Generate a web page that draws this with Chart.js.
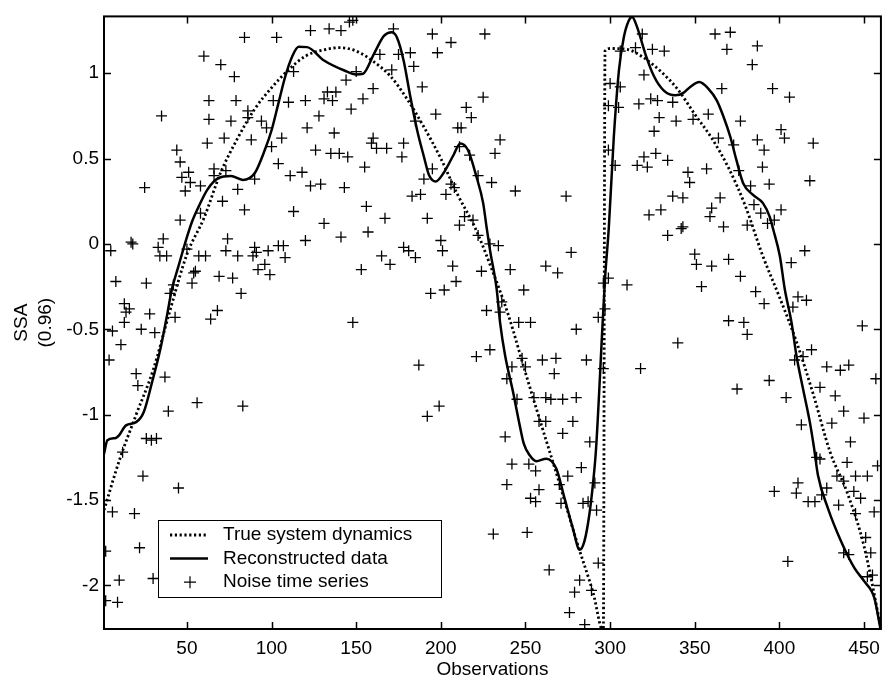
<!DOCTYPE html>
<html>
<head>
<meta charset="utf-8">
<title>SSA reconstruction</title>
<script src="https://cdn.jsdelivr.net/npm/chart.js@4.4.1/dist/chart.umd.min.js"></script>
<style>
  html, body { margin: 0; padding: 0; background: #fff; }
  #grafica { display: block; }
</style>
</head>
<body>
<canvas id="grafica" width="888" height="681"></canvas>
<script>
// Etiquetas de los ejes
const xTicks = [50, 100, 150, 200, 250, 300, 350, 400, 450];
const yTicks = [-2, -1.5, -1, -0.5, 0, 0.5, 1];
const seriesLabels = ['True system dynamics', 'Reconstructed data', 'Noise time series'];

// Dinámica real del sistema (línea punteada)
const trueX = [1, 10, 20, 30, 40, 50, 60, 70, 80, 90, 100, 110, 120, 130, 140, 150, 160, 170, 180, 190,
  200, 210, 220, 230, 240, 250, 260, 270, 280, 290, 296, 297, 300, 310, 320, 330, 340, 350, 360, 370,
  380, 390, 400, 410, 420, 430, 440, 450, 460];
const trueY = [-1.56, -1.27, -1.00, -0.74, -0.39, -0.06, 0.15, 0.42, 0.62, 0.79, 0.915, 1.02, 1.10, 1.135, 1.15, 1.13, 1.07, 0.985, 0.85, 0.685,
  0.50, 0.287, 0.10, -0.145, -0.42, -0.755, -1.08, -1.40, -1.735, -2.045, -2.27, 1.13, 1.145, 1.14, 1.09, 1.01, 0.905, 0.76, 0.62, 0.445,
  0.22, -0.065, -0.31, -0.57, -0.88, -1.22, -1.455, -1.77, -2.25];

// Datos reconstruidos (línea continua)
const reconX = [1, 3, 8, 10, 14, 20, 24.5, 29.4, 34.3, 38.2, 41.1, 45, 50, 53, 57, 62, 68.5, 76, 83, 90,
  96, 100, 104, 108, 112, 116, 121, 131, 143, 150, 154, 160.5, 166.5, 171, 174, 178, 182, 186, 190, 193,
  197, 201.5, 207.5, 211.5, 216, 221, 225, 227, 229, 233, 235, 238, 242.7, 246.6, 249, 252.5, 256.4, 262.3, 268.2, 273.1,
  278, 282, 284.8, 287.7, 290, 291.7, 295.6, 297.1, 299.2, 302.2, 305.2, 308.1, 311, 313, 316, 320.8, 325.7, 331.6, 338.5, 343.3,
  347.3, 352.7, 358, 363, 367, 371, 374.6, 378.6, 384.4, 390.3, 394.2, 396.5, 400.3, 403.2, 407.2, 410.1, 414, 418, 420.4, 422.8,
  428.7, 436.5, 444.3, 450.2, 456.1, 459.6];
const reconY = [-1.23, -1.15, -1.137, -1.12, -1.063, -1.044, -0.985, -0.81, -0.616, -0.42, -0.266, -0.13, 0.04, 0.13, 0.22, 0.317, 0.385, 0.398, 0.375, 0.414,
  0.55, 0.666, 0.822, 0.978, 1.094, 1.155, 1.153, 1.075, 1.016, 0.993, 0.997, 1.114, 1.22, 1.24, 1.211, 1.075, 0.861, 0.666, 0.511, 0.404,
  0.366, 0.414, 0.521, 0.589, 0.55, 0.395, 0.239, 0.10, -0.033, -0.266, -0.461, -0.655, -0.869, -1.063, -1.17, -1.238, -1.273, -1.258, -1.316, -1.491,
  -1.666, -1.792, -1.743, -1.588, -1.394, -1.2, -0.461, -0.188, 0.09, 0.628, 1.016, 1.211, 1.308, 1.33, 1.269, 1.114, 0.987, 0.90, 0.871, 0.885,
  0.92, 0.949, 0.91, 0.841, 0.745, 0.628, 0.492, 0.356, 0.287, 0.239, 0.161, 0.08, -0.072, -0.266, -0.461, -0.655, -0.85, -1.044, -1.19, -1.355,
  -1.549, -1.743, -1.898, -1.977, -2.074, -2.249];

// Serie con ruido (cruces)
const noiseX = [
  84, 103, 60, 70, 78, 35, 63, 79, 86, 86, 63, 76, 94, 97, 101, 110, 113, 72, 62, 88, 100, 106, 44, 46, 51, 47, 52, 58, 49, 25, 66, 73, 66, 104, 111, 90, 80, 71, 84, 46, 58, 113,
  123, 134, 141, 146, 148, 172, 195, 206, 226, 164, 175, 182, 198, 184, 171, 150, 144, 160, 189, 133, 138, 131, 136, 120, 154, 147, 128, 225, 215, 218, 197, 185, 121, 137, 210, 212,
  160, 159, 162, 168, 178, 177, 126, 135, 140, 145, 155, 118, 123, 129, 143, 195, 190, 211, 217, 235, 232, 222, 230, 206, 208, 203, 183, 188, 244, 274, 156, 167, 192, 131, 157, 214, 219, 211,
  319, 362, 371, 387, 369, 315, 325, 332, 306, 384, 320, 300, 306, 366, 396, 406, 299, 305, 317, 324, 328, 337, 329, 339, 349, 358, 377, 326, 364, 373, 387, 391, 401, 403, 420,
  299, 327, 334, 320, 316, 322, 303, 357, 346, 347, 390, 376, 418, 383, 394, 337, 343, 365, 323, 330, 360, 359, 385, 389, 401, 397, 393, 343, 367, 381,
  5, 17, 18, 36, 33, 34, 38, 8, 26, 13, 16, 14, 28, 13, 6, 23, 31, 11, 4, 20, 21, 37, 39, 56, 83, 26, 32, 29, 43, 40, 42, 50, 53, 54, 55, 57, 61, 74, 73, 80, 69, 77, 82, 68, 64,
  90, 91, 89, 98, 92, 96, 99, 104, 107, 108, 120, 141, 153, 148,
  200, 201, 178, 181, 185, 165, 170, 207, 209, 202, 194, 222, 229, 234, 224, 241, 262, 269, 277, 249, 236, 235, 227, 246, 253, 280, 296, 299, 310, 297, 293,
  229, 221, 187, 248, 242, 250, 260, 268, 267, 286, 296, 318, 239, 245, 255, 262, 265, 272, 280, 199, 192, 258, 262, 278, 272, 238, 288,
  334, 342, 350, 351, 360, 370, 377, 354, 386, 391, 370, 379, 381, 340, 407, 415, 411, 416, 408, 449, 419, 414, 409, 428, 436, 441, 457, 394, 375, 424, 433, 404, 438, 450, 431, 413, 442,
  12, 24, 45, 6, 19, 22, 10, 30, 2, 9, 2,
  242, 252, 256, 239, 258, 253, 256, 283, 275, 270, 271, 284, 287, 291, 292, 231, 251, 293, 264, 282, 279, 289, 276, 285,
  405, 438, 441, 454, 452, 455,
  422, 424, 440, 458, 434, 438, 445, 452, 411, 397, 410, 417, 421, 425, 428, 444, 448, 435, 445, 456, 451
];
const noiseY = [
  1.21, 1.21, 1.10, 1.05, 0.98, 0.75, 0.84, 0.84, 0.78, 0.74, 0.73, 0.72, 0.72, 0.68, 0.84, 0.83, 1.01, 0.62, 0.59, 0.61, 0.57, 0.62, 0.55, 0.48, 0.42, 0.39, 0.36, 0.34, 0.31, 0.33, 0.44, 0.43, 0.40, 0.47, 0.40, 0.38, 0.32, 0.25, 0.20, 0.14, 0.18, 0.19,
  1.25, 1.26, 1.25, 1.30, 1.31, 1.26, 1.23, 1.18, 1.23, 1.11, 1.11, 1.12, 1.12, 1.04, 1.02, 1.01, 0.96, 0.91, 0.92, 0.89, 0.89, 0.85, 0.84, 0.84, 0.85, 0.79, 0.75, 0.86, 0.80, 0.74, 0.76, 0.72, 0.68, 0.65, 0.68, 0.68,
  0.62, 0.59, 0.56, 0.56, 0.59, 0.51, 0.55, 0.53, 0.53, 0.51, 0.45, 0.42, 0.34, 0.35, 0.33, 0.44, 0.38, 0.57, 0.52, 0.61, 0.53, 0.40, 0.36, 0.35, 0.33, 0.29, 0.28, 0.29, 0.31, 0.28, 0.22, 0.15, 0.15, 0.12, 0.07, 0.16, 0.14, 0.11,
  1.23, 1.23, 1.24, 1.16, 1.14, 1.15, 1.14, 1.13, 1.13, 1.05, 0.99, 0.94, 0.92, 0.91, 0.91, 0.86, 0.81, 0.80, 0.82, 0.85, 0.84, 0.83, 0.74, 0.72, 0.73, 0.76, 0.72, 0.66, 0.62, 0.58, 0.61, 0.55, 0.67, 0.62, 0.59,
  0.55, 0.53, 0.49, 0.51, 0.46, 0.45, 0.46, 0.44, 0.42, 0.36, 0.45, 0.43, 0.37, 0.34, 0.35, 0.28, 0.27, 0.27, 0.17, 0.20, 0.21, 0.16, 0.23, 0.18, 0.20, 0.14, 0.12, 0.10, 0.10, 0.11,
  -0.04, 0.01, 0.00, 0.03, -0.02, -0.07, -0.07, -0.22, -0.23, -0.35, -0.38, -0.40, -0.41, -0.46, -0.51, -0.50, -0.52, -0.59, -0.68, -0.76, -0.83, -0.78, -0.98, -0.93, -0.95, -1.14, -1.14, -1.15, -0.43, -0.29, -0.24, -0.03, -0.23, -0.17, -0.16, -0.07, -0.07, 0.03, -0.04, -0.07, -0.19, -0.20, -0.29, -0.39, -0.44,
  -0.02, -0.05, -0.07, -0.04, -0.15, -0.12, -0.18, -0.01, -0.01, -0.08, 0.02, 0.04, -0.15, -0.46,
  0.02, -0.04, -0.02, -0.04, -0.08, -0.07, -0.12, -0.13, -0.22, -0.27, -0.29, 0.05, 0.00, -0.01, -0.16, -0.15, -0.13, -0.17, -0.05, -0.27, -0.34, -0.40, -0.39, -0.46, -0.46, -0.50, -0.23, -0.20, -0.24, -0.38, -0.43,
  -0.62, -0.66, -0.71, -0.67, -0.72, -0.72, -0.68, -0.67, -0.76, -0.68, -0.73, -0.73, -0.79, -0.91, -0.90, -0.90, -0.91, -0.91, -0.90, -0.95, -1.01, -1.04, -1.04, -1.04, -1.11, -1.13, -1.16,
  0.05, 0.09, -0.06, -0.12, -0.13, -0.09, -0.19, -0.25, -0.28, -0.35, -0.45, -0.46, -0.53, -0.58, -0.11, -0.04, -0.31, -0.33, -0.37, -0.48, -0.62, -0.66, -0.68, -0.72, -0.74, -0.71, -0.79, -0.80, -0.85, -0.84, -0.89, -0.90, -0.98, -1.02, -1.05, -1.06, -1.16,
  -1.22, -1.36, -1.43, -1.57, -1.58, -1.78, -1.97, -1.96, -2.09, -2.10, -1.80,
  -1.29, -1.29, -1.33, -1.41, -1.44, -1.49, -1.51, -1.31, -1.36, -1.41, -1.52, -1.52, -1.51, -1.40, -1.56, -1.70, -1.69, -1.87, -1.91, -1.97, -2.04, -2.03, -2.16, -2.23,
  -1.86, -1.81, -1.82, -1.81, -1.95, -1.94,
  -1.25, -1.26, -1.28, -1.30, -1.36, -1.39, -1.36, -1.36, -1.40, -1.45, -1.46, -1.51, -1.51, -1.47, -1.43, -1.45, -1.49, -1.53, -1.58, -1.57, -1.72
];

function pares(xs, ys) {
  return xs.map((x, i) => ({ x: x, y: ys[i] }));
}

Chart.defaults.font.family = "'Liberation Sans', Arial, Helvetica, sans-serif";
Chart.defaults.font.size = 19;
Chart.defaults.color = '#000';

// Marco de los ejes con marcas hacia adentro en los cuatro lados
const marcoEjes = {
  id: 'marcoEjes',
  afterDatasetsDraw(chart) {
    const { ctx, chartArea: a, scales } = chart;
    const largo = 7;
    ctx.save();
    ctx.strokeStyle = '#000';
    ctx.lineWidth = 1.5;
    ctx.beginPath();
    scales.x.ticks.forEach(t => {
      const px = Math.round(scales.x.getPixelForValue(t.value)) + 0.5;
      ctx.moveTo(px, a.bottom); ctx.lineTo(px, a.bottom - largo);
      ctx.moveTo(px, a.top); ctx.lineTo(px, a.top + largo);
    });
    scales.y.ticks.forEach(t => {
      const py = Math.round(scales.y.getPixelForValue(t.value)) + 0.5;
      ctx.moveTo(a.left, py); ctx.lineTo(a.left + largo, py);
      ctx.moveTo(a.right, py); ctx.lineTo(a.right - largo, py);
    });
    ctx.stroke();
    ctx.lineWidth = 2;
    ctx.strokeRect(a.left, a.top, a.right - a.left, a.bottom - a.top);
    ctx.restore();
  }
};

// Leyenda en recuadro dentro del área de la gráfica
const leyenda = {
  id: 'leyenda',
  afterDraw(chart) {
    const { ctx } = chart;
    const x0 = 158.5, y0 = 520.5, ancho = 283, alto = 77;
    ctx.save();
    ctx.fillStyle = '#fff';
    ctx.fillRect(x0, y0, ancho, alto);
    ctx.strokeStyle = '#000';
    ctx.lineWidth = 1;
    ctx.strokeRect(x0, y0, ancho, alto);
    ctx.font = "19px 'Liberation Sans', Arial, sans-serif";
    ctx.fillStyle = '#000';
    ctx.textBaseline = 'middle';
    chart.data.datasets.forEach((ds, i) => {
      const fy = y0 + 14.5 + i * 23.6;
      ctx.strokeStyle = '#000';
      if (ds.showLine) {
        ctx.lineWidth = ds.borderWidth;
        ctx.setLineDash(ds.borderDash || []);
        ctx.beginPath();
        ctx.moveTo(170, fy);
        ctx.lineTo(208, fy);
        ctx.stroke();
        ctx.setLineDash([]);
      } else {
        ctx.lineWidth = 1.2;
        ctx.beginPath();
        ctx.moveTo(184, fy); ctx.lineTo(196, fy);
        ctx.moveTo(190, fy - 6); ctx.lineTo(190, fy + 6);
        ctx.stroke();
      }
      ctx.fillText(ds.label, 223, fy);
    });
    ctx.restore();
  }
};

new Chart(document.getElementById('grafica'), {
  type: 'scatter',
  data: {
    datasets: [
      {
        label: seriesLabels[0],
        data: pares(trueX, trueY),
        showLine: true,
        borderColor: '#000',
        borderWidth: 2.8,
        borderDash: [2.2, 2.6],
        pointRadius: 0,
        cubicInterpolationMode: 'monotone'
      },
      {
        label: seriesLabels[1],
        data: pares(reconX, reconY),
        showLine: true,
        borderColor: '#000',
        borderWidth: 2.5,
        pointRadius: 0,
        cubicInterpolationMode: 'monotone'
      },
      {
        label: seriesLabels[2],
        data: pares(noiseX, noiseY),
        showLine: false,
        pointStyle: 'cross',
        pointRadius: 5.5,
        pointBorderWidth: 1.3,
        borderColor: '#000',
        backgroundColor: '#000'
      }
    ]
  },
  options: {
    responsive: false,
    animation: false,
    events: [],
    devicePixelRatio: 1,
    layout: { padding: { top: 12, right: 2, left: 0, bottom: 0 } },
    plugins: { legend: { display: false }, tooltip: { enabled: false } },
    scales: {
      x: {
        type: 'linear',
        min: 1,
        max: 460,
        afterBuildTicks: s => { s.ticks = xTicks.map(v => ({ value: v })); },
        afterFit: s => { s.height = 52; },
        grid: { display: false, drawTicks: false },
        border: { display: false },
        ticks: { padding: 8, autoSkip: false, maxRotation: 0, callback: v => String(v) },
        title: { display: true, text: 'Observations', padding: 0 }
      },
      y: {
        type: 'linear',
        min: -2.256,
        max: 1.333,
        afterBuildTicks: s => { s.ticks = yTicks.map(v => ({ value: v })); },
        afterFit: s => { s.width = 104; },
        grid: { display: false, drawTicks: false },
        border: { display: false },
        ticks: { padding: 5, autoSkip: false, callback: v => String(v) },
        title: {
          display: true,
          text: ['SSA', '(0.96)'],
          padding: { top: 9, bottom: 0 },
          font: { size: 19, lineHeight: 1.3 }
        }
      }
    }
  },
  plugins: [marcoEjes, leyenda]
});
</script>
</body>
</html>
